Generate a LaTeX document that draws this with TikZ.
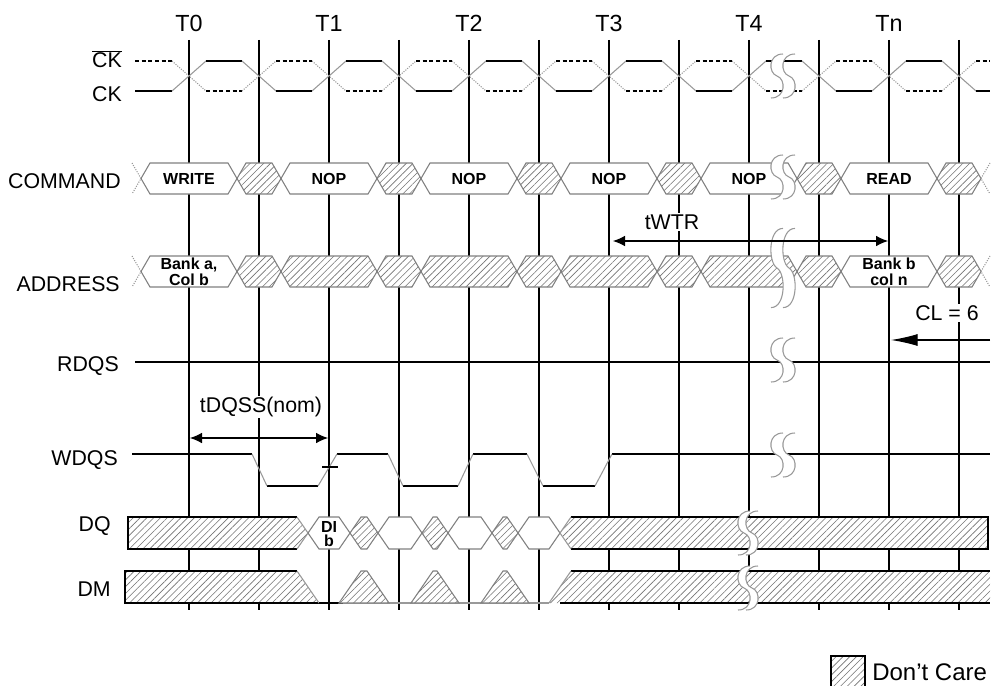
\documentclass[tikz,border=0pt]{standalone}
\usepackage{fontspec}
\setmainfont{Liberation Sans}
\usetikzlibrary{patterns.meta,arrows.meta}

\begin{document}
\begin{tikzpicture}
[x=0.75pt,y=-0.75pt,
 lvl/.style={line width=0.8pt},
 edge/.style={line width=0.8pt,black!40},
 hatch/.style={pattern={Lines[angle=45,distance=3.6pt,line width=0.45pt]},pattern color=black!55},
 bus/.style={draw=black!50,line width=0.8pt,fill=white},
 dcare/.style={draw=black!50,line width=0.8pt,preaction={fill=white},hatch},
 dcfill/.style={preaction={fill=white},hatch},
 lbl/.style={anchor=base east,inner sep=0pt,font=\fontsize{16}{19}\selectfont},
 tlbl/.style={anchor=base,inner sep=0pt,font=\fontsize{17.5}{20}\selectfont},
 cmd/.style={font=\fontsize{12}{12}\selectfont\bfseries,align=center,inner sep=0pt},
 tim/.style={font=\fontsize{16}{19}\selectfont,fill=white,inner sep=1pt},
 dim/.style={{Latex[length=9pt,width=8pt]}-{Latex[length=9pt,width=8pt]},line width=0.8pt},
 bigarr/.style={-{Latex[length=20pt,width=9pt]},line width=0.8pt},
 pics/brk/.style={code={
   \fill[white] (6,-22) .. controls (-9,-22) and (-9,-3) .. (0,0)
     .. controls (9,3) and (9,22) .. (-6,22) -- (#1-6,22)
     .. controls (#1+9,22) and (#1+9,3) .. (#1,0)
     .. controls (#1-9,-3) and (#1-9,-22) .. (#1+6,-22) -- cycle;
   \draw[edge] (6,-22) .. controls (-9,-22) and (-9,-3) .. (0,0)
     .. controls (9,3) and (9,22) .. (-6,22);
   \draw[edge] (#1+6,-22) .. controls (#1-9,-22) and (#1-9,-3) .. (#1,0)
     .. controls (#1+9,3) and (#1+9,22) .. (#1-6,22);
 }}]
\useasboundingbox (0,0) rectangle (998,685);

% clock edges
\foreach \x in {189,259,...,959}
  \draw[lvl] (\x,40) -- (\x,610);
\draw[line width=2.2pt] (889,197) -- (889,435);

% CK and CK#
\draw[lvl] (135,91) -- (172,91);
\draw[lvl,dash pattern=on 3pt off 2pt,line width=1.2pt] (135,61) -- (172,61);
\foreach \r in {189,329,...,889} {
  \draw[edge] (\r-17,91) -- (\r+17,61);
  \draw[edge,densely dotted] (\r-17,61) -- (\r+17,91);
  \draw[lvl] (\r+17,61) -- (\r+53,61);
  \draw[lvl,dash pattern=on 3pt off 2pt,line width=1.2pt] (\r+17,91) -- (\r+53,91);
}
\foreach \f in {259,399,...,959} {
  \draw[edge] (\f-17,61) -- (\f+17,91);
  \draw[edge,densely dotted] (\f-17,91) -- (\f+17,61);
  \draw[lvl] (\f+17,91) -- ({min(\f+53,990)},91);
  \draw[lvl,dash pattern=on 3pt off 2pt,line width=1.2pt] (\f+17,61) -- ({min(\f+53,990)},61);
}

% COMMAND
\draw[edge,densely dotted] (132,163) -- (141,178.5) -- (132,194);
\draw[edge,densely dotted] (990,163) -- (981,178.5) -- (990,194);
\foreach \a/\b/\s in {141/237/bus,237/281/dcare,281/377/bus,377/421/dcare,421/517/bus,517/561/dcare,
    561/657/bus,657/701/dcare,701/797/bus,797/841/dcare,841/937/bus,937/981/dcare}
  \draw[\s] (\a,178.5) -- (\a+9,163) -- (\b-9,163) -- (\b,178.5) -- (\b-9,194) -- (\a+9,194) -- cycle;

% ADDRESS
\draw[edge,densely dotted] (132,256) -- (141,271.5) -- (132,287);
\draw[edge,densely dotted] (990,256) -- (981,271.5) -- (990,287);
\foreach \a/\b/\s in {141/237/bus,237/281/dcare,281/377/dcare,377/421/dcare,421/517/dcare,517/561/dcare,
    561/657/dcare,657/701/dcare,701/797/dcare,797/841/dcare,841/937/bus,937/981/dcare}
  \draw[\s] (\a,271.5) -- (\a+9,256) -- (\b-9,256) -- (\b,271.5) -- (\b-9,287) -- (\a+9,287) -- cycle;

% RDQS
\draw[lvl] (135,362) -- (990,362);

% WDQS
\foreach \a/\b in {132/252,337/388,473/527,612/990}
  \draw[lvl] (\a,454) -- (\b,454);
\foreach \a/\b in {267/318,403/458,543/595}
  \draw[lvl] (\a,486) -- (\b,486);
\foreach \a/\b in {252/267,388/403,527/543}
  \draw[edge] (\a,454) -- (\b,486);
\foreach \a/\b in {318/337,458/473,595/612}
  \draw[edge] (\a,486) -- (\b,454);
\draw[lvl] (322,467) -- (338,467);

% DQ
\path[dcfill] (128,517) -- (297,517) -- (308,533) -- (297,549) -- (128,549) -- cycle;
\draw[lvl] (297,517) -- (128,517) -- (128,549) -- (297,549);
\draw[edge] (297,517) -- (308,533) -- (297,549);
\foreach \a/\b/\s in {308/350/bus,350/378/dcare,378/422/bus,422/448/dcare,448/492/bus,492/518/dcare,518/560/bus}
  \draw[\s] (\a,533) -- (\a+11,517) -- (\b-11,517) -- (\b,533) -- (\b-11,549) -- (\a+11,549) -- cycle;
\path[dcfill] (560,533) -- (571,517) -- (988,517) -- (988,549) -- (571,549) -- cycle;
\draw[lvl] (571,517) -- (988,517) -- (988,549) -- (571,549);
\draw[edge] (571,517) -- (560,533) -- (571,549);

% DM
\path[dcfill] (125,571) -- (297,571) -- (319,603) -- (125,603) -- cycle;
\draw[lvl] (297,571) -- (125,571) -- (125,603) -- (319,603);
\draw[edge] (297,571) -- (319,603);
\draw[edge] (319,603) -- (549,603);
\draw[lvl] (319,603) -- (343,603);
\foreach \a/\b in {350/378,422/448,492/518}
  \draw[dcare] (\a-11,603) -- (\a+11,571) -- (\b-11,571) -- (\b+11,603) -- cycle;
\path[dcfill] (549,603) -- (571,571) -- (990,571) -- (990,603) -- cycle;
\draw[lvl] (571,571) -- (990,571);
\draw[lvl] (560,603) -- (990,603);
\draw[edge] (549,603) -- (571,571);

% breaks
\pic at (777,76) {brk=12};
\pic at (777,177) {brk=12};
\pic[yscale=1.8] at (777,268) {brk=12};
\pic at (777,360) {brk=12};
\pic at (777,455) {brk=12};
\pic at (744,533) {brk=8};
\pic at (744,588) {brk=8};

% bus texts
\node[cmd] (wr) at (189,178.5) {WRITE};
\node[cmd] (nop1) at (329,178.5) {NOP};
\node[cmd] (nop2) at (469,178.5) {NOP};
\node[cmd] (nop3) at (609,178.5) {NOP};
\node[cmd] (nop4) at (749,178.5) {NOP};
\node[cmd] (rd) at (889,178.5) {READ};
\node[cmd] (adra) at (189,271.5) {Bank a,\\Col b};
\node[cmd] (adrb) at (889,271.5) {Bank b\\col n};
\node[cmd,font=\fontsize{12}{10.5}\selectfont\bfseries] (dib) at (329,534) {DI\\b};

% signal names
\node[lbl] (ckb) at (122,68) {$\overline{\hbox{CK}}$};
\node[lbl] (ck) at (122,101) {CK};
\node[lbl] (cmdl) at (121,188) {COMMAND};
\node[lbl] (adrl) at (120,291.5) {ADDRESS};
\node[lbl] (rdqs) at (119,371) {RDQS};
\node[lbl] (wdqs) at (118,465) {WDQS};
\node[lbl] (dq) at (111,531) {DQ};
\node[lbl] (dm) at (111,596) {DM};

% clock names
\node[tlbl] (t0) at (189,32) {T0};
\node[tlbl] (t1) at (329,32) {T1};
\node[tlbl] (t2) at (469,32) {T2};
\node[tlbl] (t3) at (609,32) {T3};
\node[tlbl] (t4) at (749,32) {T4};
\node[tlbl] (tn) at (889,32) {Tn};

% timing
\coordinate (wtrL) at (613,241);
\coordinate (wtrR) at (888,241);
\draw[dim] (wtrL) -- (wtrR);
\node[tim] (wtr) at (672,222) {tWTR};
\coordinate (dqsL) at (190,438);
\coordinate (dqsR) at (328,438);
\draw[dim] (dqsL) -- (dqsR);
\node[tim] (dqss) at (261,407) {tDQSS(nom)};
\coordinate (clR) at (990,340);
\coordinate (clL) at (891,340);
\draw[bigarr] (clR) -- (clL);
\node[tim] (cl) at (947,313) {CL = 6};

% legend
\draw[dcare,draw=black] (831,656) rectangle (865,690);
\node[anchor=west,inner sep=0pt,font=\fontsize{18}{21}\selectfont] (dc) at (872,672) {Don’t Care};
\end{tikzpicture}
\end{document}
